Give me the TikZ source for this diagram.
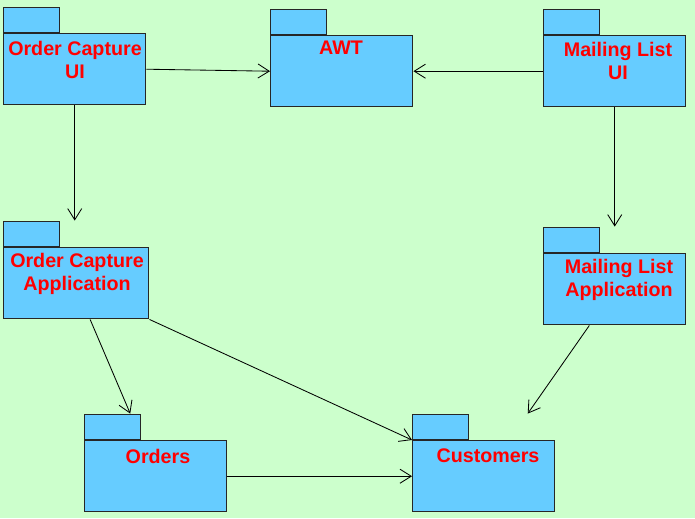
\documentclass[tikz,border=0pt]{standalone}
\usepackage{fontspec}
\newfontfamily\pkgfont{Liberation Sans}
\usetikzlibrary{arrows.meta,calc}
\definecolor{bggreen}{RGB}{204,255,204}
\definecolor{pkgblue}{RGB}{102,204,255}

\begin{document}
\begin{tikzpicture}[x=0.025cm, y=-0.025cm, >={Straight Barb[length=8pt,width=10pt]},
  pkgbody/.style={draw=black!85, line width=1pt, fill=pkgblue, anchor=north west,
    inner sep=0pt, minimum width=3.55cm, minimum height=1.775cm},
  pkgtab/.style={draw=black!85, line width=1pt, fill=pkgblue, anchor=south west,
    inner sep=0pt, minimum width=1.4cm, minimum height=0.625cm},
  pkgname/.style={text=red, align=center, inner sep=0pt,
    font=\pkgfont\bfseries\fontsize{14}{16.4}\selectfont},
  dep/.style={->, line width=0.6pt}]
  % Background
  \fill[bggreen] (0,0) rectangle (695,518);
  \useasboundingbox (0,0) rectangle (695,518);

  % Top row
  \node[pkgbody] (ocui) at (3,33) {};
  \node[pkgtab] (ocuitab) at (ocui.north west) {};
  \node[pkgname] at (75,60) {Order Capture\\UI};

  \node[pkgbody] (awt) at (270,35) {};
  \node[pkgtab] (awttab) at (awt.north west) {};
  \node[pkgname] at (341,48) {AWT};

  \node[pkgbody] (mlui) at (543,35) {};
  \node[pkgtab] (mluitab) at (mlui.north west) {};
  \node[pkgname] at (618,61) {Mailing List\\UI};

  % Middle row
  \node[pkgbody, minimum width=3.625cm] (ocapp) at (3,247) {};
  \node[pkgtab] (ocapptab) at (ocapp.north west) {};
  \node[pkgname] at (77,274) {Order Capture\\Application};

  \node[pkgbody] (mlapp) at (543,253) {};
  \node[pkgtab] (mlapptab) at (mlapp.north west) {};
  \node[pkgname] at (619,280) {Mailing List\\Application};

  % Bottom row
  \node[pkgbody] (orders) at (84,440) {};
  \node[pkgtab] (orderstab) at (orders.north west) {};
  \node[pkgname] at (158,456) {Orders};

  \node[pkgbody] (cust) at (412,440) {};
  \node[pkgtab] (custtab) at (cust.north west) {};
  \node[pkgname] at (488,456) {Customers};

  % Dependencies
  \draw[dep] (ocui.east) -- (awt.west);
  \draw[dep] (mlui.west) -- (awt.east);
  \draw[dep] (ocui.south) -- (ocui.south |- ocapptab.north);
  \draw[dep] (mlui.south) -- (mlui.south |- mlapptab.north);
  \draw[dep] (ocapp.-69) -- (orderstab.37);
  \draw[dep] (ocapp.south east) -- (cust.north west);
  \draw[dep] (orders.east) -- (cust.west);
  \draw[dep] (mlapp.-125) -- ([xshift=1.1cm]cust.north |- custtab.north);
\end{tikzpicture}
\end{document}
